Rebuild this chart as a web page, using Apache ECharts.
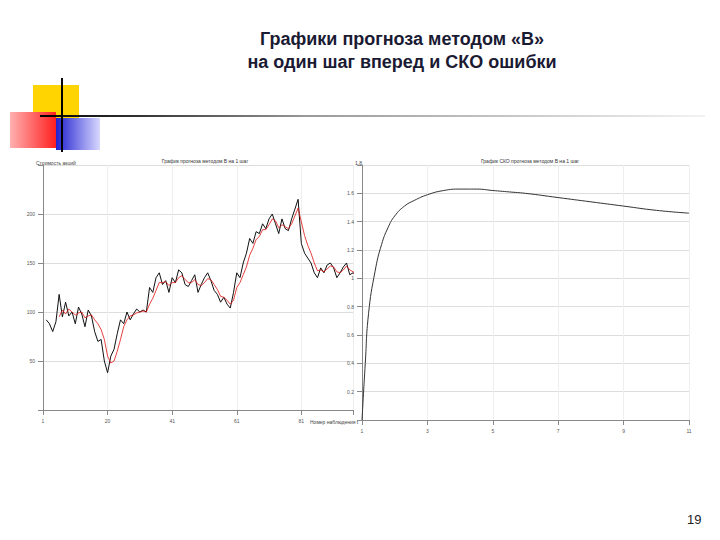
<!DOCTYPE html>
<html><head><meta charset="utf-8">
<script src="https://cdn.jsdelivr.net/npm/echarts@6/dist/echarts.min.js"></script>
<style>html,body{margin:0;background:#fff}#c{width:720px;height:540px}</style>
</head><body><div id="c"></div>
<script>
// left chart: actual series and one-step forecast
var actual = [92,88,80,90,118,95,110,96,100,88,105,98,85,102,96,80,70,72,50,38,55,62,78,92,88,100,92,98,103,100,102,100,125,120,135,140,128,132,120,135,130,143,140,128,126,132,138,120,128,135,140,132,122,118,110,115,108,104,120,140,135,150,160,175,170,182,180,190,185,195,200,190,180,195,185,183,195,205,215,170,160,155,150,140,135,145,140,148,150,145,135,140,146,150,138,140,138];
var forecast = [null,null,null,null,95,102,98,103,100,97,99,100,94,96,97,92,88,82,72,55,48,50,60,72,85,92,96,97,99,100,101,100,108,114,122,130,130,131,127,130,130,135,137,133,130,130,133,128,127,130,134,133,128,123,116,115,112,108,112,125,130,138,146,158,165,174,177,184,184,189,195,193,186,189,187,185,190,198,206,192,178,168,160,150,142,143,141,144,147,146,141,140,143,147,143,141,139];
// right chart: RMSE of error
var rmseX = [1,1.1,1.2,1.4,1.6,1.8,2,2.3,2.6,3,3.5,4,4.5,5,5.5,6,7,8,9,10,11];
var rmseY = [0,0.4,0.75,1.05,1.24,1.36,1.44,1.51,1.55,1.59,1.62,1.63,1.63,1.62,1.61,1.6,1.57,1.54,1.51,1.48,1.46];
var leftTicks = ['1','20','41','61','81'];

var ax = {fontSize:5,color:'#555',fontFamily:'Liberation Sans'};
var chart = echarts.init(document.getElementById('c'), null, {renderer:'svg'});
chart.setOption({
  animation:false,
  title:[
    {text:'Графики прогноза методом «B»\nна один шаг вперед и СКО ошибки',left:397,top:22,textAlign:'center',
     textStyle:{fontSize:18,fontWeight:'bold',color:'#1a1a33',fontFamily:'Liberation Sans',lineHeight:23}},
    {text:'19',left:682,top:508,textStyle:{fontSize:13,fontWeight:'normal',color:'#222',fontFamily:'Liberation Sans'}},
    {text:'График прогноза методом B на 1 шаг',left:200,top:153,textAlign:'center',textStyle:{fontSize:5,color:'#333',fontWeight:'normal'}},
    {text:'График СКО прогноза методом B на 1 шаг',left:525,top:153,textAlign:'center',textStyle:{fontSize:5,color:'#333',fontWeight:'normal'}}
  ],
  graphic:[
    {type:'rect',shape:{x:33,y:85,width:46,height:36},style:{fill:'#ffd400'}},
    {type:'rect',shape:{x:10,y:112,width:46,height:36},style:{fill:new echarts.graphic.LinearGradient(0,0,1,0,[{offset:0,color:'#ffb0b0'},{offset:1,color:'#ff2020'}])}},
    {type:'rect',shape:{x:56,y:118,width:44,height:32},style:{fill:new echarts.graphic.LinearGradient(0,0,1,0,[{offset:0,color:'#2020d0'},{offset:1,color:'#d8d8ff'}])}},
    {type:'rect',shape:{x:40,y:115,width:665,height:2},style:{fill:new echarts.graphic.LinearGradient(0,0,1,0,[{offset:0,color:'#000'},{offset:0.15,color:'#333'},{offset:0.4,color:'#999'},{offset:1,color:'#f2f2f2'}])}},
    {type:'rect',shape:{x:61,y:78,width:2,height:74},style:{fill:'#000'}},
    {type:'text',left:36,top:160,style:{text:'Стоимость акций',fontSize:5,fill:'#444'}},
    {type:'text',left:355,top:160,style:{text:'1.8',fontSize:5,fill:'#444'}},
    {type:'text',left:310,top:419,style:{text:'Номер наблюдения t',fontSize:5,fill:'#444'}}
  ],
  grid:[
    {left:43,top:165,width:310,height:245},
    {left:362,top:165,width:327,height:255}
  ],
  xAxis:[
    {type:'value',gridIndex:0,min:0,max:96,interval:20,
     axisLabel:Object.assign({formatter:function(v){return leftTicks[v/20]||'';}},ax),
     axisLine:{lineStyle:{color:'#888'}},axisTick:{show:true,lineStyle:{color:'#888'}},
     splitLine:{show:true,lineStyle:{color:'#eee'}}},
    {type:'value',gridIndex:1,min:1,max:11,interval:2,axisLabel:ax,
     axisLine:{lineStyle:{color:'#888'}},axisTick:{lineStyle:{color:'#888'}},
     splitLine:{show:true,lineStyle:{color:'#eee'}}}
  ],
  yAxis:[
    {type:'value',gridIndex:0,min:0,max:250,interval:50,axisLabel:Object.assign({formatter:function(v){return v===250||v===0?'':v;}},ax),
     axisLine:{show:true,lineStyle:{color:'#888'}},splitLine:{lineStyle:{color:'#ddd'}}},
    {type:'value',gridIndex:1,min:0,max:1.8,interval:0.2,axisLabel:Object.assign({formatter:function(v){return v===0||v>1.75?'':+v.toFixed(1);}},ax),
     axisLine:{show:true,lineStyle:{color:'#888'}},splitLine:{lineStyle:{color:'#ddd'}}}
  ],
  series:[
    {type:'line',xAxisIndex:0,yAxisIndex:0,data:actual.map(function(v,i){return [i+1,v];}),symbol:'none',lineStyle:{color:'#111',width:1}},
    {type:'line',xAxisIndex:0,yAxisIndex:0,data:forecast.map(function(v,i){return [i+1,v];}),symbol:'none',lineStyle:{color:'#e01010',width:0.8}},
    {type:'line',xAxisIndex:1,yAxisIndex:1,data:rmseX.map(function(x,i){return [x,rmseY[i]];}),smooth:true,symbol:'none',lineStyle:{color:'#333',width:1}}
  ]
});
</script></body></html>
